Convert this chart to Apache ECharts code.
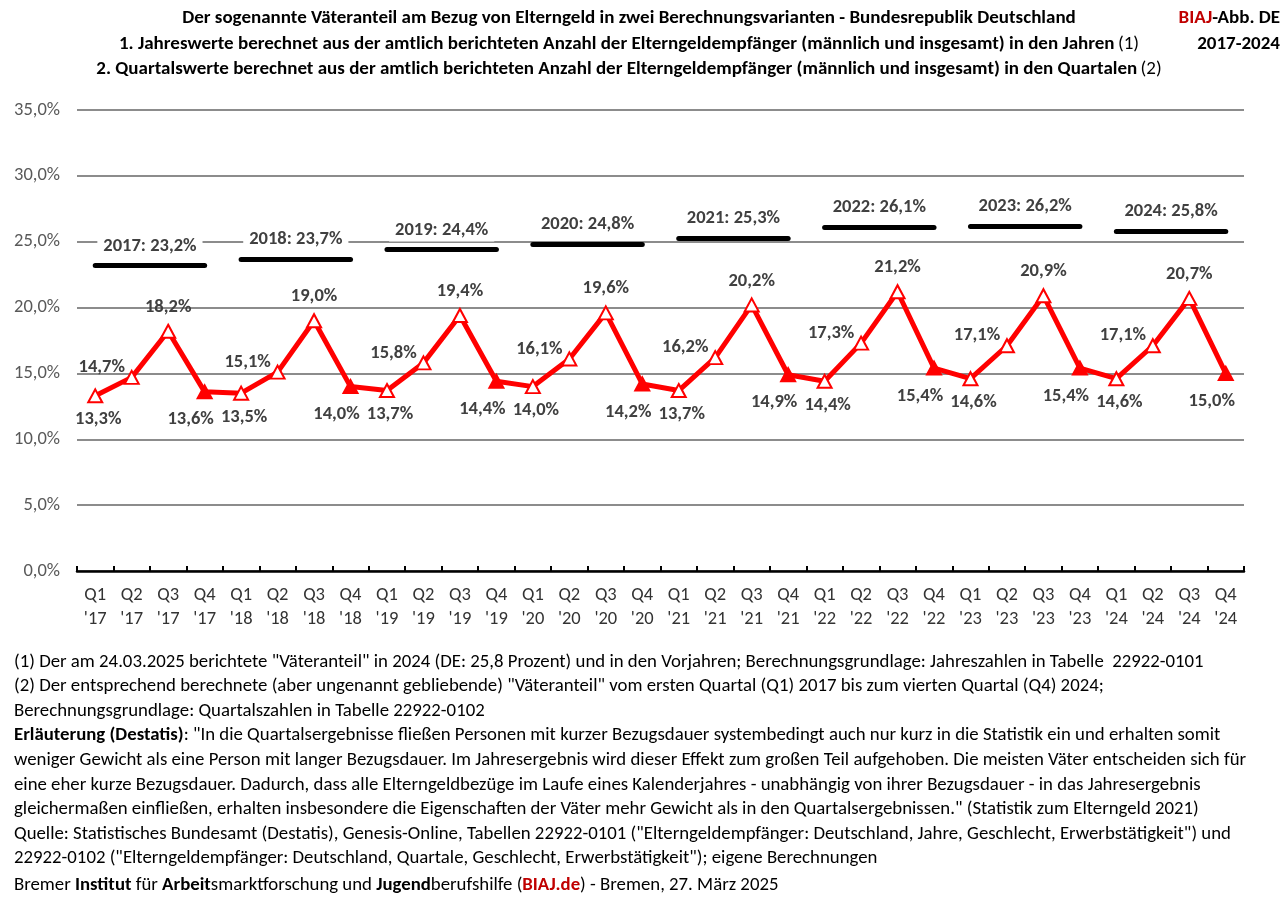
<!DOCTYPE html>
<html><head><meta charset="utf-8">
<script src="https://cdn.jsdelivr.net/npm/echarts@6/dist/echarts.min.js"></script>
<style>html,body{margin:0;padding:0;background:#fff}#c{width:1286px;height:905px}</style>
</head><body><div id="c"></div>
<script>
const categories = ["Q1\n'17","Q2\n'17","Q3\n'17","Q4\n'17","Q1\n'18","Q2\n'18","Q3\n'18","Q4\n'18",
  "Q1\n'19","Q2\n'19","Q3\n'19","Q4\n'19","Q1\n'20","Q2\n'20","Q3\n'20","Q4\n'20",
  "Q1\n'21","Q2\n'21","Q3\n'21","Q4\n'21","Q1\n'22","Q2\n'22","Q3\n'22","Q4\n'22",
  "Q1\n'23","Q2\n'23","Q3\n'23","Q4\n'23","Q1\n'24","Q2\n'24","Q3\n'24","Q4\n'24"];
const quarterValues = [13.3,14.7,18.2,13.6, 13.5,15.1,19.0,14.0, 13.7,15.8,19.4,14.4, 14.0,16.1,19.6,14.2,
  13.7,16.2,20.2,14.9, 14.4,17.3,21.2,15.4, 14.6,17.1,20.9,15.4, 14.6,17.1,20.7,15.0];
const years = ['2017','2018','2019','2020','2021','2022','2023','2024'];
const annualValues = [23.2,23.7,24.4,24.8,25.3,26.1,26.2,25.8];
const yMin = 0, yMax = 35, yStep = 5;

const FONT = 'Carlito, Lato, sans-serif';
const pct = v => v.toFixed(1).replace('.', ',') + '%';
const qOffsets = [[3,24],[-30,-10],[0,-24],[-14,28]];

const chart = echarts.init(document.getElementById('c'), null, {renderer:'canvas'});

const footerLines = [
  '(1) Der am 24.03.2025 berichtete "Väteranteil" in 2024 (DE: 25,8 Prozent) und in den Vorjahren; Berechnungsgrundlage: Jahreszahlen in Tabelle  22922-0101',
  '(2) Der entsprechend berechnete (aber ungenannt gebliebende) "Väteranteil" vom ersten Quartal (Q1) 2017 bis zum vierten Quartal (Q4) 2024;',
  'Berechnungsgrundlage: Quartalszahlen in Tabelle 22922-0102',
  '{b|Erläuterung (Destatis)}: "In die Quartalsergebnisse fließen Personen mit kurzer Bezugsdauer systembedingt auch nur kurz in die Statistik ein und erhalten somit',
  'weniger Gewicht als eine Person mit langer Bezugsdauer. Im Jahresergebnis wird dieser Effekt zum großen Teil aufgehoben. Die meisten Väter entscheiden sich für',
  'eine eher kurze Bezugsdauer. Dadurch, dass alle Elterngeldbezüge im Laufe eines Kalenderjahres - unabhängig von ihrer Bezugsdauer - in das Jahresergebnis',
  'gleichermaßen einfließen, erhalten insbesondere die Eigenschaften der Väter mehr Gewicht als in den Quartalsergebnissen." (Statistik zum Elterngeld 2021)',
  'Quelle: Statistisches Bundesamt (Destatis), Genesis-Online, Tabellen 22922-0101 ("Elterngeldempfänger: Deutschland, Jahre, Geschlecht, Erwerbstätigkeit") und',
  '22922-0102 ("Elterngeldempfänger: Deutschland, Quartale, Geschlecht, Erwerbstätigkeit"); eigene Berechnungen',
  'Bremer {b|Institut} für {b|Arbeit}smarktforschung und {b|Jugend}berufshilfe ({r|BIAJ.de}) - Bremen, 27. März 2025'
];
const footerY = [662, 686, 711, 735, 760, 785, 809, 834, 858, 885];

const FS = 18.8, TS = 19, LS = 18.5;
const rich = {
  b: {fontFamily: FONT, fontSize: FS, fontWeight: 'bold', fill: '#000', color:'#000'},
  r: {fontFamily: FONT, fontSize: FS, fontWeight: 'bold', fill: '#C00000', color:'#C00000'},
  n: {fontFamily: FONT, fontSize: TS, fontWeight: 'normal', fill: '#000', color:'#000'},
  t: {fontFamily: FONT, fontSize: TS, fontWeight: 'bold', fill: '#000', color:'#000'},
  tr: {fontFamily: FONT, fontSize: TS, fontWeight: 'bold', fill: '#C00000', color:'#C00000'}
};

const graphics = [
  {type:'text', x:629, y:18, style:{text:'{t|Der sogenannte Väteranteil am Bezug von Elterngeld in zwei Berechnungsvarianten - Bundesrepublik Deutschland}', rich, align:'center', verticalAlign:'middle'}},
  {type:'text', x:629, y:44, style:{text:'{t|1. Jahreswerte berechnet aus der amtlich berichteten Anzahl der Elterngeldempfänger (männlich und insgesamt) in den Jahren} {n|(1)}', rich, align:'center', verticalAlign:'middle'}},
  {type:'text', x:629, y:69, style:{text:'{t|2. Quartalswerte berechnet aus der amtlich berichteten Anzahl der Elterngeldempfänger (männlich und insgesamt) in den Quartalen} {n|(2)}', rich, align:'center', verticalAlign:'middle'}},
  {type:'text', x:1280, y:18, style:{text:'{tr|BIAJ}{t|-Abb. DE}', rich, align:'right', verticalAlign:'middle'}},
  {type:'text', x:1280, y:44, style:{text:'{t|2017-2024}', rich, align:'right', verticalAlign:'middle'}}
];
footerLines.forEach((line, i) => {
  graphics.push({type:'text', x:14, y:footerY[i], style:{text:line, rich, fontFamily:FONT, fontSize:FS, fill:'#000', align:'left', verticalAlign:'middle'}});
});

const option = {
  animation: false,
  backgroundColor: '#fff',
  textStyle: {fontFamily: FONT},
  grid: {left: 77, right: 42, top: 110, bottom: 334, containLabel: false},
  xAxis: {
    type: 'category', data: categories, boundaryGap: true,
    axisLine: {lineStyle: {color: '#000', width: 2.5}},
    axisTick: {show: true, inside: true, length: 5, lineStyle: {color: '#000', width: 2}},
    axisLabel: {interval: 0, fontSize: LS, color: '#333', lineHeight: 24, margin: 12, fontFamily: FONT}
  },
  yAxis: {
    type: 'value', min: yMin, max: yMax, interval: yStep,
    axisLine: {show: false}, axisTick: {show: false},
    splitLine: {lineStyle: {color: '#8c8c8c', width: 2}},
    axisLabel: {fontSize: LS, color: '#595959', margin: 17, fontFamily: FONT, formatter: v => pct(v)}
  },
  series: [
    {
      type: 'line', name: 'Quartale', z: 5,
      lineStyle: {color: '#FF0000', width: 5},
      symbol: 'triangle', symbolSize: [14, 13],
      data: quarterValues.map((v, i) => ({
        value: v,
        itemStyle: {color: i % 4 === 3 ? '#FF0000' : '#FFFFFF', borderColor: '#FF0000', borderWidth: 2},
        label: {offset: qOffsets[i % 4]}
      })),
      label: {show: true, position: 'inside', formatter: p => pct(p.value), fontSize: LS, fontWeight: 'bold', color: '#404040', fontFamily: FONT}
    },
    {
      type: 'line', name: 'Jahre', data: [], z: 4,
      markLine: {
        silent: true, symbol: ['none', 'none'],
        lineStyle: {color: '#000', width: 5, type: 'solid', cap: 'round'},
        label: {show: true, position: 'insideMiddleTop', distance: 8, fontSize: LS, fontWeight: 'bold', color: '#404040',
                fontFamily: FONT, backgroundColor: '#fff', padding: [2, 6]},
        data: annualValues.map((v, k) => [
          {coord: [categories[4 * k], v], label: {formatter: years[k] + ': ' + pct(v)}},
          {coord: [categories[4 * k + 3], v]}
        ])
      }
    }
  ],
  graphic: graphics
};
chart.setOption(option);
</script></body></html>
